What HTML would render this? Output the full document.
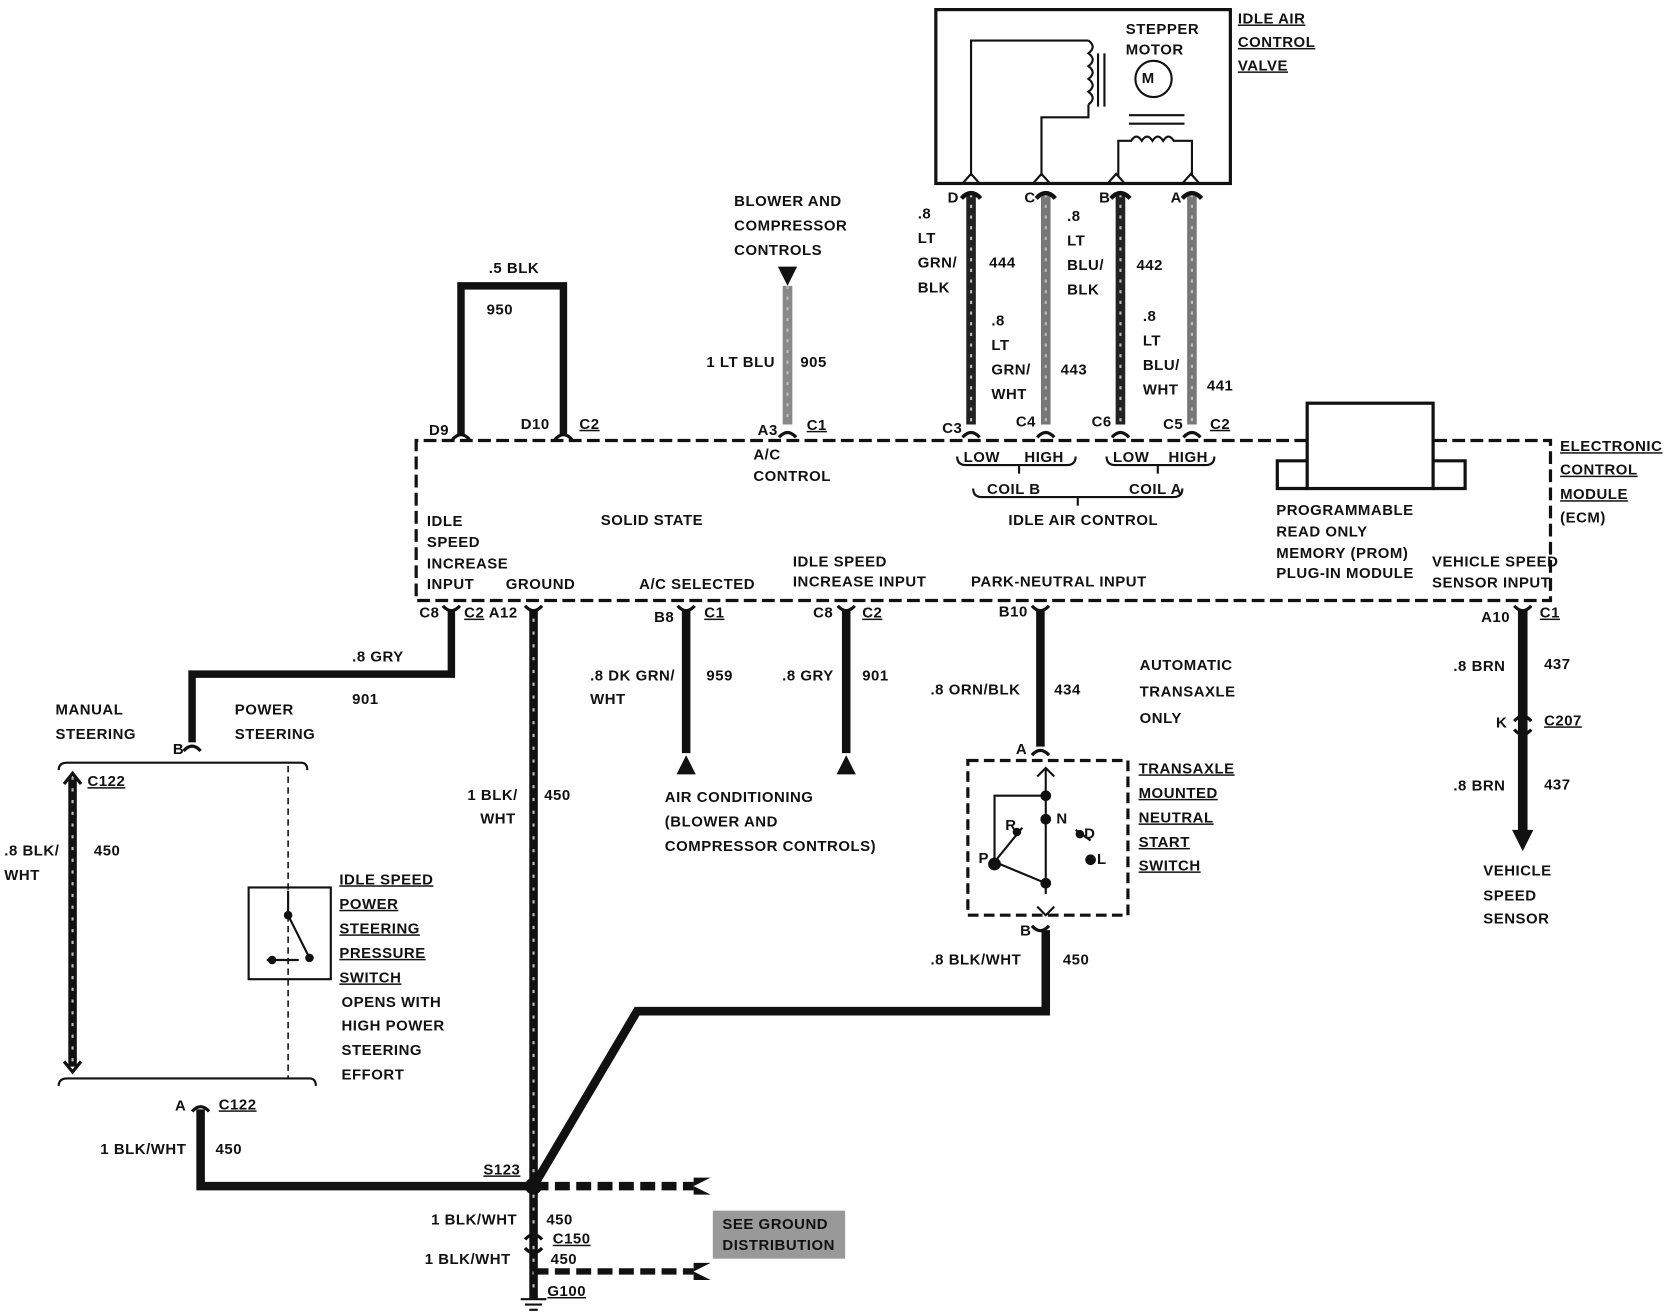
<!DOCTYPE html>
<html><head><meta charset="utf-8"><style>
html,body{margin:0;padding:0;background:#fff;}
svg{display:block}
text{font-family:"Liberation Sans",sans-serif;font-weight:bold;font-size:14px;fill:#111;letter-spacing:0.5px}
</style></head><body>
<svg width="1670" height="1312" viewBox="0 0 1565 1230" preserveAspectRatio="none" xmlns="http://www.w3.org/2000/svg">
<g fill="none" stroke="#111">
<!-- IAC valve box -->
<rect x="877" y="9" width="276" height="163" stroke-width="3"/>
<path d="M910 165V38H1020M1020 38q8 6 0 12q8 6 0 12q8 6 0 12q8 6 0 12q8 6 0 12M1020 98V110H976V165" stroke-width="2"/>
<path d="M1029 50V100M1035 50V100" stroke-width="2"/>
<circle cx="1081" cy="74" r="17" stroke-width="2"/>
<path d="M1058 108H1110M1058 116H1110" stroke-width="2"/>
<path d="M1048 165V132H1060q5-8 10 0q5-8 10 0q5-8 10 0q5-8 10 0H1117V165" stroke-width="2"/>
<path d="M902 172l8-9l8 9M968 172l8-9l8 9M1038 172l8-9l8 9M1108 172l8-9l8 9" stroke-width="2"/>
<!-- IAC wires -->
<g stroke-width="9" stroke="#222"><path d="M910 182V398M1050 182V398"/></g>
<g stroke-width="9" stroke="#777"><path d="M980 182V398M1117 182V398"/></g>
<g stroke-width="2" stroke="#bbb" stroke-dasharray="3 7"><path d="M980 182V398M1117 182V398M910 182V398M1050 182V398"/></g>
<path d="M901 186q9-10 18 0M971 186q9-10 18 0M1041 186q9-10 18 0M1108 186q9-10 18 0" stroke-width="4"/>
<path d="M902 410q8-9 16 0M972 410q8-9 16 0M1042 410q8-9 16 0M1109 410q8-9 16 0" stroke-width="3"/>
<!-- ECM dashed -->
<path d="M1225 413H390V563H1453V413H1343" stroke-width="3" stroke-dasharray="12 5"/>
<rect x="1225" y="378" width="118" height="80" stroke-width="3"/>
<path d="M1225 432H1197V458H1225M1343 432H1373V458H1343" stroke-width="3"/>
<!-- IAC brackets under -->
<path d="M897 428q0 8 8 8H1000q8 0 8-8M1037 428q0 8 8 8H1130q8 0 8-8M912 458q0 8 8 8H1100q8 0 8-8M955 436v8M1085 436v8M1010 466v8" stroke-width="2"/>
<!-- 950 loop -->
<path d="M432 408V268H528V408" stroke-width="7"/>
<path d="M424 412q8-9 16 0M520 412q8-9 16 0" stroke-width="3"/>
<!-- 905 -->
<path d="M738 268V398" stroke-width="9" stroke="#888"/>
<path d="M738 268V398" stroke-width="2" stroke="#bbb" stroke-dasharray="3 7"/>
<path d="M730 410q8-9 16 0" stroke-width="3"/>
<!-- bottom ECM pins -->
<path d="M415 568q8 9 16 0M492 568q8 9 16 0M635 568q8 9 16 0M785 568q8 9 16 0M967 568q8 9 16 0M1419 568q8 9 16 0" stroke-width="3"/>
<!-- 901 gry to steering -->
<path d="M423 572V632H180V696" stroke-width="7"/>
<path d="M172 704q8-9 16 0" stroke-width="3"/>
<path d="M55 722q0-7 8-7H282q6 0 6 7" stroke-width="2"/>
<path d="M68 728V1000" stroke-width="8"/>
<path d="M68 728V1000" stroke-width="2" stroke="#bbb" stroke-dasharray="3 8"/>
<path d="M60 735l8-10l8 10M60 995l8 10l8-10" stroke-width="3"/>
<path d="M270 718V1012" stroke-width="1.5" stroke-dasharray="6 4"/>
<rect x="233" y="832" width="77" height="86" stroke-width="2"/>
<path d="M270 835V858L290 898M250 900H280" stroke-width="2"/>
<path d="M55 1018q0-7 8-7H290q6 0 6 7" stroke-width="2"/>
<path d="M180 1042q8-9 16 0" stroke-width="3"/>
<path d="M188 1040V1112H500" stroke-width="8"/>
<!-- ground 450 -->
<path d="M500 572V1218" stroke-width="8"/>
<path d="M500 580V1210" stroke-width="2" stroke="#bbb" stroke-dasharray="3 9"/>
<path d="M500 1112L597 948H980V872" stroke-width="8"/>
<path d="M500 1112H650" stroke-width="8" stroke-dasharray="14 6"/>
<path d="M500 1192H650" stroke-width="6" stroke-dasharray="14 6"/>
<path d="M492 1162q8-9 16 0M492 1170q8 9 16 0" stroke-width="3"/>
<path d="M488 1218H512M492 1223H508M496 1228H504" stroke-width="2"/>
<!-- 959 and 901 -->
<path d="M643 572V706M793 572V706" stroke-width="8"/>
<!-- 434 -->
<path d="M975 572V700" stroke-width="8"/>
<path d="M967 708q8-9 16 0M967 868q8 9 16 0" stroke-width="3"/>
<rect x="907" y="713" width="150" height="145" stroke-width="3" stroke-dasharray="10 5"/>
<path d="M980 720V838M972 728l8-8l8 8M972 850l8 8l8-8M980 746H932V808L980 828M932 808L958 776M1008 778L1022 788" stroke-width="2"/>
<!-- 437 -->
<path d="M1427 572V780" stroke-width="9"/>
<path d="M1419 676q8-9 16 0M1419 684q8 9 16 0" stroke-width="3"/>
</g>
<g fill="#111">
<polygon points="729,250 747,250 738,268"/>
<polygon points="643,708 634,726 652,726"/>
<polygon points="793,708 784,726 802,726"/>
<polygon points="1417,778 1437,778 1427,798"/>
<polygon points="650,1104 666,1104 650,1112 666,1120 650,1120"/>
<polygon points="650,1184 666,1184 650,1192 666,1200 650,1200"/>
<circle cx="500" cy="1112" r="8"/>
<circle cx="980" cy="746" r="5"/><circle cx="980" cy="768" r="5"/><circle cx="932" cy="810" r="6"/><circle cx="980" cy="828" r="5"/>
<circle cx="953" cy="780" r="4"/><circle cx="1012" cy="782" r="4"/><circle cx="1022" cy="806" r="5"/>
<circle cx="270" cy="858" r="4"/><circle cx="290" cy="898" r="4"/><circle cx="255" cy="900" r="4"/>
</g>
<rect x="668" y="1135" width="124" height="45" fill="#999"/>
<g>
<text x="1070" y="78" font-size="11">M</text>
<text x="1055" y="32" font-size="13">STEPPER</text><text x="1055" y="51" font-size="13">MOTOR</text>
<text x="1160" y="22" text-decoration="underline" font-size="15">IDLE AIR</text>
<text x="1160" y="44" text-decoration="underline" font-size="15">CONTROL</text>
<text x="1160" y="66" text-decoration="underline" font-size="15">VALVE</text>
<text x="888" y="190">D</text><text x="960" y="190">C</text><text x="1030" y="190">B</text><text x="1097" y="190">A</text>
<text x="860" y="205">.8</text><text x="860" y="228">LT</text><text x="860" y="251">GRN/</text><text x="860" y="274">BLK</text>
<text x="927" y="251">444</text>
<text x="1000" y="207">.8</text><text x="1000" y="230">LT</text><text x="1000" y="253">BLU/</text><text x="1000" y="276">BLK</text>
<text x="1065" y="253">442</text>
<text x="929" y="305">.8</text><text x="929" y="328">LT</text><text x="929" y="351">GRN/</text><text x="929" y="374">WHT</text>
<text x="994" y="351">443</text>
<text x="1071" y="301">.8</text><text x="1071" y="324">LT</text><text x="1071" y="347">BLU/</text><text x="1071" y="370">WHT</text>
<text x="1131" y="366">441</text>
<text x="883" y="406">C3</text><text x="952" y="400">C4</text><text x="1023" y="400">C6</text><text x="1090" y="402">C5</text><text x="1134" y="402" text-decoration="underline">C2</text>
<text x="903" y="433" font-size="12">LOW</text><text x="960" y="433" font-size="12">HIGH</text>
<text x="1043" y="433" font-size="12">LOW</text><text x="1095" y="433" font-size="12">HIGH</text>
<text x="925" y="463" font-size="12">COIL B</text><text x="1058" y="463" font-size="12">COIL A</text>
<text x="945" y="492" font-size="13">IDLE AIR CONTROL</text>
<text x="1196" y="483" font-size="12">PROGRAMMABLE</text><text x="1196" y="503" font-size="12">READ ONLY</text>
<text x="1196" y="523" font-size="12">MEMORY (PROM)</text><text x="1196" y="542" font-size="12">PLUG-IN MODULE</text>
<text x="1462" y="423" text-decoration="underline">ELECTRONIC</text>
<text x="1462" y="445" text-decoration="underline">CONTROL</text>
<text x="1462" y="468" text-decoration="underline">MODULE</text>
<text x="1462" y="490">(ECM)</text>
<text x="1342" y="531" font-size="13">VEHICLE SPEED</text><text x="1342" y="551" font-size="13">SENSOR INPUT</text>
<text x="688" y="193">BLOWER AND</text><text x="688" y="216">COMPRESSOR</text><text x="688" y="239">CONTROLS</text>
<text x="662" y="344">1 LT BLU</text><text x="750" y="344">905</text>
<text x="710" y="408">A3</text><text x="756" y="403" text-decoration="underline">C1</text>
<text x="706" y="431" font-size="12">A/C</text><text x="706" y="451" font-size="12">CONTROL</text>
<text x="458" y="256">.5 BLK</text><text x="456" y="295">950</text>
<text x="402" y="408">D9</text><text x="488" y="402">D10</text><text x="543" y="402" text-decoration="underline">C2</text>
<text x="563" y="492" font-size="15">SOLID STATE</text>
<text x="400" y="493" font-size="13">IDLE</text><text x="400" y="513" font-size="13">SPEED</text><text x="400" y="533" font-size="13">INCREASE</text><text x="400" y="552" font-size="13">INPUT</text>
<text x="474" y="552" font-size="13">GROUND</text>
<text x="599" y="552" font-size="13">A/C SELECTED</text>
<text x="743" y="531" font-size="13">IDLE SPEED</text><text x="743" y="550" font-size="13">INCREASE INPUT</text>
<text x="910" y="550" font-size="13">PARK-NEUTRAL INPUT</text>
<text x="393" y="579">C8</text><text x="435" y="579" text-decoration="underline">C2</text>
<text x="458" y="579">A12</text>
<text x="613" y="583">B8</text><text x="660" y="579" text-decoration="underline">C1</text>
<text x="762" y="579">C8</text><text x="808" y="579" text-decoration="underline">C2</text>
<text x="936" y="578">B10</text>
<text x="1388" y="583">A10</text><text x="1443" y="579" text-decoration="underline">C1</text>
<text x="330" y="620">.8 GRY</text><text x="330" y="660">901</text>
<text x="52" y="670">MANUAL</text><text x="52" y="693">STEERING</text>
<text x="220" y="670">POWER</text><text x="220" y="693">STEERING</text>
<text x="162" y="707" font-size="12">B</text>
<text x="82" y="737" text-decoration="underline">C122</text>
<text x="4" y="802">.8 BLK/</text><text x="4" y="825">WHT</text><text x="88" y="802">450</text>
<text x="318" y="829" text-decoration="underline">IDLE SPEED</text><text x="318" y="852" text-decoration="underline">POWER</text>
<text x="318" y="875" text-decoration="underline">STEERING</text><text x="318" y="898" text-decoration="underline">PRESSURE</text>
<text x="318" y="921" text-decoration="underline">SWITCH</text>
<text x="320" y="944">OPENS WITH</text><text x="320" y="966">HIGH POWER</text><text x="320" y="989">STEERING</text><text x="320" y="1012">EFFORT</text>
<text x="164" y="1041">A</text><text x="205" y="1040" text-decoration="underline">C122</text>
<text x="94" y="1082">1 BLK/WHT</text><text x="202" y="1082">450</text>
<text x="438" y="750">1 BLK/</text><text x="450" y="772">WHT</text><text x="510" y="750">450</text>
<text x="553" y="638">.8 DK GRN/</text><text x="553" y="660">WHT</text><text x="662" y="638">959</text>
<text x="733" y="638">.8 GRY</text><text x="808" y="638">901</text>
<text x="623" y="752">AIR CONDITIONING</text><text x="623" y="775">(BLOWER AND</text><text x="623" y="798">COMPRESSOR CONTROLS)</text>
<text x="872" y="651">.8 ORN/BLK</text><text x="988" y="651">434</text>
<text x="1068" y="628">AUTOMATIC</text><text x="1068" y="653">TRANSAXLE</text><text x="1068" y="678">ONLY</text>
<text x="952" y="707">A</text>
<text x="1067" y="725" text-decoration="underline">TRANSAXLE</text><text x="1067" y="748" text-decoration="underline">MOUNTED</text>
<text x="1067" y="771" text-decoration="underline">NEUTRAL</text><text x="1067" y="794" text-decoration="underline">START</text>
<text x="1067" y="816" text-decoration="underline">SWITCH</text>
<text x="942" y="778" font-size="12">R</text><text x="990" y="772" font-size="12">N</text><text x="1016" y="786" font-size="12">D</text>
<text x="917" y="809" font-size="12">P</text><text x="1028" y="810" font-size="12">L</text>
<text x="956" y="877">B</text>
<text x="872" y="904">.8 BLK/WHT</text><text x="996" y="904">450</text>
<text x="1362" y="629">.8 BRN</text><text x="1447" y="627">437</text>
<text x="1402" y="682">K</text><text x="1447" y="680" text-decoration="underline">C207</text>
<text x="1362" y="741">.8 BRN</text><text x="1447" y="740">437</text>
<text x="1390" y="821">VEHICLE</text><text x="1390" y="844">SPEED</text><text x="1390" y="866">SENSOR</text>
<text x="453" y="1101" text-decoration="underline">S123</text>
<text x="404" y="1148">1 BLK/WHT</text><text x="512" y="1148">450</text>
<text x="518" y="1166" text-decoration="underline">C150</text>
<text x="398" y="1185">1 BLK/WHT</text><text x="516" y="1185">450</text>
<text x="513" y="1215" text-decoration="underline">G100</text>
<text x="677" y="1152" font-size="13" fill="#333">SEE GROUND</text>
<text x="677" y="1172" font-size="13" fill="#333">DISTRIBUTION</text>
</g>
</svg>
</body></html>
